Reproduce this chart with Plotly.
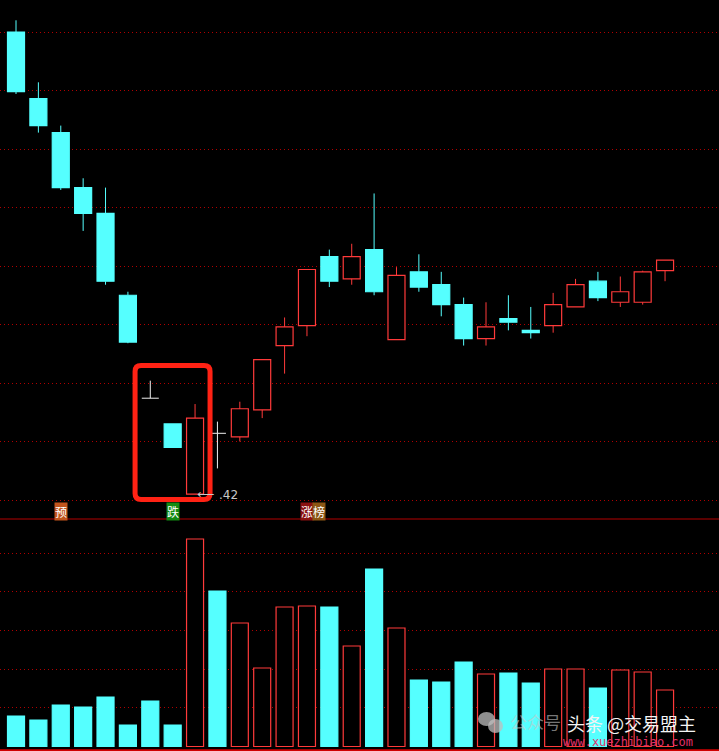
import plotly.graph_objects as go

# ---------------- data ----------------
days = list(range(1, 31))
opens  = [10.37, 9.80, 9.51, 9.04, 8.82, 8.12, 7.24, 7.02, 6.42, 6.94,
          6.91, 7.14, 7.69, 7.86, 8.45, 8.26, 8.51, 7.74, 8.32, 8.21,
          8.04, 7.75, 7.92, 7.82, 7.86, 8.02, 8.24, 8.06, 8.06, 8.33]
highs  = [10.47, 9.94, 9.57, 9.12, 9.04, 8.15, 7.39, 7.02, 7.19, 7.04,
          7.21, 7.57, 7.93, 8.34, 8.51, 8.56, 8.99, 8.36, 8.47, 8.32,
          8.10, 8.06, 8.12, 8.02, 8.14, 8.26, 8.32, 8.28, 8.33, 8.42]
lows   = [9.84, 9.51, 9.02, 8.67, 8.21, 7.71, 7.24, 6.82, 6.42, 6.64,
          6.87, 7.07, 7.45, 7.77, 8.19, 8.21, 8.12, 7.74, 8.15, 7.94,
          7.69, 7.69, 7.82, 7.75, 7.80, 8.02, 8.07, 8.02, 8.04, 8.24]
closes = [9.86, 9.57, 9.04, 8.82, 8.24, 7.72, 7.24, 6.82, 7.07, 6.94,
          7.15, 7.57, 7.85, 8.34, 8.24, 8.45, 8.15, 8.29, 8.19, 8.04,
          7.75, 7.85, 7.89, 7.80, 8.04, 8.21, 8.10, 8.15, 8.32, 8.42]
volumes = [7880, 6850, 10720, 10200, 12790, 5560, 11760, 5560, 53620, 40180,
           31910, 20280, 36050, 36300, 36050, 25970, 45870, 30620, 17180, 16670,
           21830, 18730, 18990, 16410, 20030, 20030, 15120, 19770, 19250, 14600]

price_grid = [6.37, 6.87, 7.37, 7.87, 8.37, 8.87, 9.37, 9.87, 10.37]
volume_grid = [10000, 20000, 30000, 40000, 50000]
price_range = [6.2076, 10.6435]
volume_range = [-1163, 58785]
x_range = [0.285, 32.41]

signal_labels = [
    {"day": 3, "text": "预", "bg": "#c2541c"},
    {"day": 8, "text": "跌", "bg": "#128a12"},
    {"day": 14, "text": "涨", "bg": "#8a1010"},
    {"day": 14.55, "text": "榜", "bg": "#8c5614"},
]
label_price = 6.276
min_day = 9
min_price_text = ".42"

# ---------------- styles ----------------
CYAN = "#55ffff"
RED = "#ff3a3a"
WHITE = "#f0f0f0"
GRID = "#b00000"
BODY_W = 0.76

def kind(o, c):
    if c > o:
        return "up"
    if c < o:
        return "down"
    return "doji"

kinds = [kind(o, c) for o, c in zip(opens, closes)]
wick_color = {"up": RED, "down": CYAN, "doji": WHITE}

fig = go.Figure()

# wicks (split around the body so hollow bodies stay empty)
for k in ["up", "down", "doji"]:
    xs, ys = [], []
    for d, o, h, l, c, kk in zip(days, opens, highs, lows, closes, kinds):
        if kk != k:
            continue
        top, bot = max(o, c), min(o, c)
        if h > top:
            xs += [d, d, None]; ys += [top, h, None]
        if l < bot:
            xs += [d, d, None]; ys += [l, bot, None]
        if k == "doji":
            xs += [d - BODY_W / 2, d + BODY_W / 2, None]; ys += [o, o, None]
    if xs:
        fig.add_trace(go.Scatter(x=xs, y=ys, mode="lines",
                                 line=dict(color=wick_color[k], width=1),
                                 hoverinfo="skip", showlegend=False,
                                 xaxis="x", yaxis="y"))

# bodies
for k, fill in [("up", "#000000"), ("down", CYAN)]:
    bx, bb, bh = [], [], []
    for d, o, c, kk in zip(days, opens, closes, kinds):
        if kk == k:
            bx.append(d); bb.append(min(o, c)); bh.append(abs(c - o))
    fig.add_trace(go.Bar(x=bx, y=bh, base=bb, width=BODY_W,
                         marker=dict(color=fill,
                                     line=dict(color=RED if k == "up" else CYAN, width=1.2)),
                         hoverinfo="skip", showlegend=False,
                         xaxis="x", yaxis="y"))

# volume bars
for k, fill, lc in [("up", "#000000", RED), ("other", CYAN, CYAN)]:
    vx, vy = [], []
    for d, v, kk in zip(days, volumes, kinds):
        if (kk == "up") == (k == "up"):
            vx.append(d); vy.append(v)
    fig.add_trace(go.Bar(x=vx, y=vy, width=BODY_W,
                         marker=dict(color=fill, line=dict(color=lc, width=1.2)),
                         hoverinfo="skip", showlegend=False,
                         xaxis="x", yaxis="y2"))

split = 1 - 519 / 751

fig.update_layout(
    width=719, height=751, autosize=False,
    margin=dict(l=0, r=0, t=0, b=0),
    paper_bgcolor="#000000", plot_bgcolor="#000000",
    barmode="overlay", showlegend=False,
    xaxis=dict(range=x_range, visible=False, fixedrange=True),
    yaxis=dict(domain=[split, 1], range=price_range, tickvals=price_grid,
               showticklabels=False, showgrid=True, gridcolor=GRID,
               griddash="1px,3px", gridwidth=1, zeroline=False, showline=False,
               ticks=""),
    yaxis2=dict(domain=[0, split], range=volume_range, tickvals=volume_grid,
                showticklabels=False, showgrid=True, gridcolor=GRID,
                griddash="1px,3px", gridwidth=1, zeroline=False, showline=False,
                ticks=""),
)

# panel separators
fig.add_shape(type="line", xref="paper", yref="paper", x0=0, x1=1, y0=split, y1=split,
              line=dict(color="#b40000", width=1))
fig.add_shape(type="line", xref="paper", yref="paper", x0=0, x1=1, y0=0.001, y1=0.001,
              line=dict(color="#d00000", width=2))

# highlighted box with rounded corners (data coords)
x0, x1 = 6.32, 9.67
y0, y1 = 6.374, 7.52
rx, ry = 0.27, 0.051
path = (f"M {x0+rx},{y1} L {x1-rx},{y1} Q {x1},{y1} {x1},{y1-ry} "
        f"L {x1},{y0+ry} Q {x1},{y0} {x1-rx},{y0} L {x0+rx},{y0} "
        f"Q {x0},{y0} {x0},{y0+ry} L {x0},{y1-ry} Q {x0},{y1} {x0+rx},{y1} Z")
fig.add_shape(type="path", path=path, xref="x", yref="y",
              line=dict(color="#ff2214", width=5))

# signal labels
for s in signal_labels:
    fig.add_annotation(x=s["day"], y=label_price, xref="x", yref="y",
                       text=s["text"], showarrow=False, bgcolor=s["bg"],
                       borderpad=0, yanchor="middle", xanchor="center",
                       font=dict(family="Noto Sans CJK SC", size=12, color="#ffffff"))

# min price marker
fig.add_annotation(x=min_day, y=lows[min_day - 1] + 0.005, xref="x", yref="y",
                   text="⟵", showarrow=False, xanchor="left", yanchor="middle",
                   font=dict(family="DejaVu Sans", size=12, color="#c8c8c8"))
fig.add_annotation(x=min_day + 0.98, y=lows[min_day - 1] - 0.005, xref="x", yref="y",
                   text=min_price_text, showarrow=False, xanchor="left", yanchor="middle",
                   font=dict(family="DejaVu Sans", size=12, color="#c8c8c8"))

# watermark
fig.add_shape(type="circle", xref="paper", yref="paper",
              x0=478/719, x1=495/719, y0=1-726/751, y1=1-712/751,
              fillcolor="rgba(190,190,190,0.75)", line=dict(width=0))
fig.add_shape(type="circle", xref="paper", yref="paper",
              x0=488/719, x1=503/719, y0=1-733/751, y1=1-719/751,
              fillcolor="rgba(190,190,190,0.75)", line=dict(width=0))
fig.add_annotation(x=508/719, y=1-721/751, xref="paper", yref="paper",
                   text="公众号", showarrow=False, xanchor="left", yanchor="middle",
                   font=dict(family="Noto Sans CJK SC", size=17,
                             color="rgba(200,200,200,0.6)"))
fig.add_annotation(x=565/719, y=1-723/751, xref="paper", yref="paper",
                   text="头条 @交易盟主", showarrow=False, xanchor="left", yanchor="middle",
                   font=dict(family="Noto Sans CJK SC", size=18, color="#f4f4f4"))
fig.add_annotation(x=561/719, y=1-742/751, xref="paper", yref="paper",
                   text="www.xuezhibiao.com", showarrow=False, xanchor="left",
                   yanchor="middle",
                   font=dict(family="DejaVu Sans Mono", size=12, color="#e0306a"))

fig.write_html("out.html", config={"displayModeBar": False},
               post_script="document.body.style.margin='0';document.body.style.overflow='hidden';")
